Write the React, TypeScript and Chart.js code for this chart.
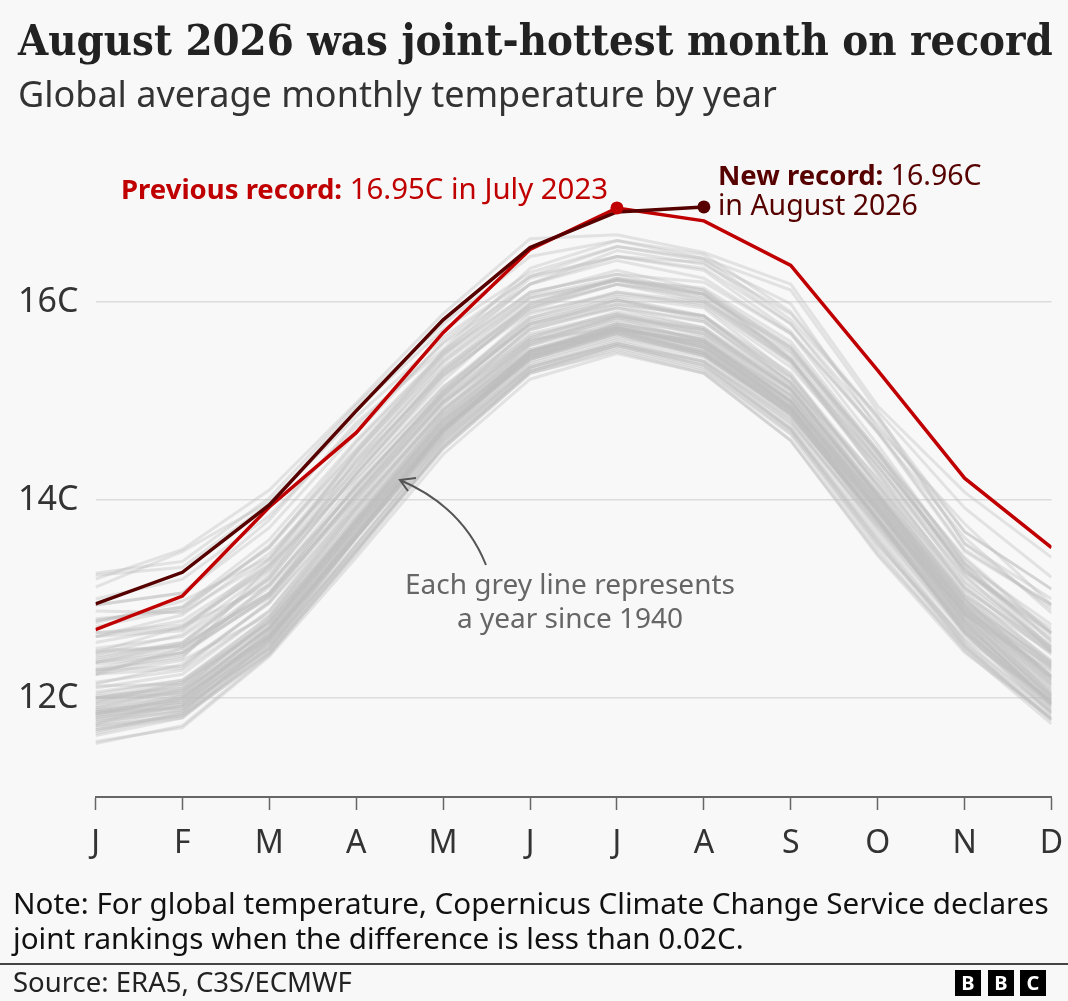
import React, { useEffect, useRef } from 'react';
import { Chart, registerables } from 'chart.js';

Chart.register(...registerables);

const months = ['J', 'F', 'M', 'A', 'M', 'J', 'J', 'A', 'S', 'O', 'N', 'D'];
const yTicks = [12, 14, 16];

const record2023 = [12.69, 13.03, 13.93, 14.68, 15.69, 16.53, 16.95, 16.82, 16.37, 15.31, 14.22, 13.52];
const record2026 = [12.95, 13.27, 13.95, 14.9, 15.82, 16.55, 16.91, 16.96];

const grey1940s = [
  [11.78, 11.92, 12.62, 13.72, 14.74, 15.48, 15.78, 15.62, 14.98, 13.94, 12.86, 12.18],
  [11.95, 12.14, 12.78, 13.84, 14.86, 15.58, 15.86, 15.7, 15.06, 14.06, 12.94, 12.22],
  [11.98, 12.06, 12.7, 13.72, 14.72, 15.44, 15.7, 15.5, 14.9, 13.82, 12.8, 12.02],
  [11.74, 11.98, 12.64, 13.68, 14.7, 15.46, 15.74, 15.58, 14.98, 13.98, 12.92, 12.14],
  [11.92, 12.1, 12.76, 13.8, 14.82, 15.56, 15.84, 15.72, 15.1, 14.02, 12.88, 12.1],
  [11.86, 12.02, 12.6, 13.66, 14.68, 15.42, 15.72, 15.6, 15.0, 13.9, 12.78, 11.92],
  [11.84, 11.96, 12.66, 13.74, 14.72, 15.42, 15.68, 15.48, 14.86, 13.78, 12.7, 11.88],
  [11.8, 11.94, 12.68, 13.76, 14.76, 15.5, 15.76, 15.54, 14.92, 13.9, 12.84, 11.98],
  [11.86, 11.9, 12.58, 13.64, 14.7, 15.46, 15.72, 15.52, 14.9, 13.8, 12.76, 11.94],
  [11.78, 11.88, 12.56, 13.62, 14.64, 15.38, 15.62, 15.44, 14.8, 13.72, 12.66, 11.84],
];

const grey1950s = [
  [11.54, 11.72, 12.44, 13.48, 14.56, 15.3, 15.54, 15.32, 14.68, 13.56, 12.52, 11.78],
  [11.62, 11.8, 12.52, 13.62, 14.72, 15.46, 15.74, 15.58, 15.0, 13.94, 12.82, 12.04],
  [11.86, 11.98, 12.62, 13.66, 14.68, 15.44, 15.7, 15.5, 14.92, 13.8, 12.68, 11.94],
  [11.9, 12.04, 12.72, 13.78, 14.78, 15.5, 15.74, 15.56, 14.94, 13.88, 12.78, 12.02],
  [11.72, 11.82, 12.48, 13.5, 14.54, 15.3, 15.56, 15.36, 14.72, 13.62, 12.56, 11.84],
  [11.68, 11.84, 12.46, 13.46, 14.52, 15.28, 15.52, 15.3, 14.66, 13.5, 12.48, 11.74],
  [11.56, 11.7, 12.42, 13.42, 14.46, 15.22, 15.48, 15.28, 14.6, 13.46, 12.5, 11.78],
  [11.66, 11.86, 12.58, 13.64, 14.72, 15.48, 15.76, 15.6, 15.0, 13.92, 12.84, 12.12],
  [12.04, 12.18, 12.76, 13.76, 14.8, 15.48, 15.74, 15.54, 14.92, 13.86, 12.84, 12.06],
  [11.94, 12.06, 12.7, 13.72, 14.72, 15.46, 15.7, 15.5, 14.88, 13.76, 12.68, 11.96],
];

const grey1960s = [
  [11.8, 11.92, 12.5, 13.62, 14.66, 15.4, 15.64, 15.48, 14.88, 13.8, 12.66, 11.96],
  [11.82, 12.0, 12.66, 13.74, 14.76, 15.5, 15.72, 15.54, 14.92, 13.84, 12.76, 11.94],
  [11.88, 12.02, 12.64, 13.7, 14.72, 15.44, 15.68, 15.46, 14.88, 13.8, 12.74, 12.0],
  [11.9, 12.08, 12.62, 13.64, 14.68, 15.44, 15.72, 15.6, 15.06, 13.98, 12.88, 12.04],
  [11.88, 11.96, 12.54, 13.5, 14.52, 15.28, 15.5, 15.28, 14.6, 13.44, 12.46, 11.8],
  [11.72, 11.88, 12.5, 13.56, 14.6, 15.34, 15.58, 15.4, 14.82, 13.7, 12.64, 11.92],
  [11.84, 12.0, 12.62, 13.66, 14.7, 15.42, 15.68, 15.46, 14.86, 13.76, 12.7, 11.9],
  [11.76, 11.86, 12.58, 13.68, 14.72, 15.42, 15.66, 15.46, 14.84, 13.82, 12.74, 11.98],
  [11.74, 11.92, 12.6, 13.62, 14.62, 15.34, 15.6, 15.4, 14.78, 13.74, 12.72, 11.96],
  [11.84, 12.0, 12.7, 13.82, 14.84, 15.56, 15.78, 15.62, 15.0, 13.94, 12.9, 12.2],
];

const grey1970s = [
  [12.0, 12.16, 12.72, 13.76, 14.76, 15.46, 15.7, 15.48, 14.86, 13.8, 12.72, 11.94],
  [11.82, 11.9, 12.5, 13.54, 14.6, 15.34, 15.58, 15.4, 14.76, 13.66, 12.58, 11.86],
  [11.64, 11.84, 12.54, 13.62, 14.7, 15.5, 15.78, 15.64, 15.04, 14.0, 12.94, 12.22],
  [12.14, 12.34, 12.96, 13.94, 14.9, 15.62, 15.84, 15.6, 14.94, 13.8, 12.66, 11.86],
  [11.68, 11.8, 12.46, 13.54, 14.58, 15.32, 15.56, 15.38, 14.72, 13.58, 12.52, 11.78],
  [11.84, 11.94, 12.6, 13.62, 14.64, 15.36, 15.58, 15.36, 14.72, 13.6, 12.54, 11.8],
  [11.7, 11.82, 12.44, 13.48, 14.54, 15.3, 15.56, 15.34, 14.7, 13.54, 12.6, 11.98],
  [11.96, 12.16, 12.82, 13.9, 14.92, 15.64, 15.88, 15.68, 15.06, 13.96, 12.92, 12.16],
  [12.0, 12.12, 12.78, 13.8, 14.8, 15.5, 15.72, 15.48, 14.9, 13.88, 12.86, 12.14],
  [12.0, 12.08, 12.8, 13.86, 14.88, 15.6, 15.82, 15.68, 15.12, 14.08, 13.04, 12.38],
];

const grey1980s = [
  [12.16, 12.28, 12.88, 13.98, 15.0, 15.68, 15.88, 15.72, 15.1, 14.04, 13.0, 12.22],
  [12.28, 12.32, 12.96, 14.0, 14.98, 15.64, 15.9, 15.74, 15.14, 14.04, 12.94, 12.3],
  [12.02, 12.1, 12.7, 13.78, 14.82, 15.52, 15.74, 15.54, 14.98, 13.92, 12.88, 12.32],
  [12.46, 12.52, 13.06, 14.06, 15.04, 15.72, 15.94, 15.8, 15.18, 14.06, 13.0, 12.18],
  [12.12, 12.14, 12.76, 13.8, 14.86, 15.52, 15.76, 15.58, 14.94, 13.9, 12.78, 12.02],
  [12.0, 12.04, 12.72, 13.78, 14.8, 15.5, 15.72, 15.56, 14.94, 13.88, 12.8, 12.08],
  [12.06, 12.18, 12.82, 13.9, 14.9, 15.58, 15.8, 15.62, 15.0, 14.0, 12.92, 12.22],
  [12.24, 12.38, 12.84, 13.94, 14.96, 15.74, 16.02, 15.86, 15.24, 14.16, 13.04, 12.46],
  [12.48, 12.52, 13.06, 14.14, 15.1, 15.76, 15.94, 15.74, 15.12, 14.02, 12.9, 12.2],
  [12.1, 12.24, 12.88, 13.92, 14.92, 15.6, 15.86, 15.72, 15.12, 14.04, 12.96, 12.3],
];

const grey1990s = [
  [12.28, 12.42, 13.16, 14.12, 15.08, 15.78, 15.98, 15.86, 15.18, 14.22, 13.16, 12.48],
  [12.36, 12.5, 13.04, 14.16, 15.06, 15.82, 16.04, 15.86, 15.2, 14.08, 12.98, 12.34],
  [12.34, 12.44, 13.04, 14.02, 14.98, 15.62, 15.74, 15.56, 14.94, 13.92, 12.86, 12.28],
  [12.36, 12.46, 13.02, 14.04, 15.0, 15.66, 15.86, 15.66, 15.02, 13.98, 12.84, 12.26],
  [12.24, 12.3, 12.98, 14.08, 15.06, 15.8, 16.02, 15.82, 15.18, 14.16, 13.12, 12.46],
  [12.46, 12.72, 13.14, 14.14, 15.1, 15.84, 16.06, 15.94, 15.26, 14.2, 13.08, 12.36],
  [12.26, 12.46, 13.02, 14.04, 15.02, 15.72, 15.96, 15.8, 15.14, 14.04, 12.96, 12.36],
  [12.3, 12.46, 13.12, 14.12, 15.1, 15.88, 16.1, 16.0, 15.48, 14.44, 13.28, 12.66],
  [12.76, 12.98, 13.42, 14.48, 15.42, 16.08, 16.32, 16.12, 15.42, 14.26, 13.1, 12.5],
  [12.36, 12.54, 13.06, 14.06, 15.06, 15.78, 16.02, 15.84, 15.24, 14.14, 13.02, 12.34],
];

const grey2000s = [
  [12.24, 12.5, 13.14, 14.2, 15.14, 15.78, 15.98, 15.86, 15.28, 14.12, 13.0, 12.32],
  [12.42, 12.56, 13.24, 14.26, 15.26, 15.92, 16.18, 16.04, 15.4, 14.34, 13.3, 12.58],
  [12.62, 12.84, 13.46, 14.36, 15.3, 15.98, 16.22, 16.02, 15.42, 14.3, 13.22, 12.52],
  [12.66, 12.74, 13.3, 14.32, 15.3, 15.94, 16.18, 16.08, 15.52, 14.48, 13.26, 12.66],
  [12.62, 12.78, 13.34, 14.38, 15.26, 15.9, 16.08, 15.98, 15.4, 14.4, 13.36, 12.56],
  [12.66, 12.7, 13.4, 14.46, 15.4, 16.06, 16.24, 16.06, 15.54, 14.5, 13.4, 12.64],
  [12.44, 12.64, 13.28, 14.28, 15.28, 16.0, 16.22, 16.08, 15.5, 14.48, 13.28, 12.7],
  [12.88, 12.86, 13.4, 14.42, 15.34, 15.96, 16.18, 16.0, 15.38, 14.28, 13.12, 12.44],
  [12.28, 12.4, 13.34, 14.22, 15.14, 15.84, 16.1, 15.96, 15.34, 14.34, 13.24, 12.48],
  [12.5, 12.62, 13.2, 14.26, 15.24, 15.94, 16.24, 16.12, 15.54, 14.4, 13.32, 12.6],
];

const grey2010s = [
  [12.72, 12.9, 13.52, 14.58, 15.48, 16.1, 16.28, 16.08, 15.44, 14.4, 13.32, 12.46],
  [12.4, 12.56, 13.2, 14.26, 15.2, 15.98, 16.24, 16.08, 15.42, 14.36, 13.18, 12.52],
  [12.38, 12.54, 13.22, 14.4, 15.38, 16.04, 16.22, 16.14, 15.6, 14.5, 13.36, 12.5],
  [12.56, 12.72, 13.32, 14.32, 15.32, 16.04, 16.22, 16.1, 15.56, 14.46, 13.42, 12.66],
  [12.62, 12.68, 13.36, 14.48, 15.46, 16.1, 16.28, 16.2, 15.68, 14.56, 13.36, 12.74],
  [12.78, 12.92, 13.52, 14.5, 15.5, 16.24, 16.46, 16.34, 15.78, 14.76, 13.68, 13.1],
  [13.12, 13.48, 13.98, 14.84, 15.64, 16.26, 16.46, 16.4, 15.78, 14.68, 13.62, 12.86],
  [13.0, 13.2, 13.84, 14.74, 15.58, 16.18, 16.46, 16.32, 15.7, 14.68, 13.48, 12.94],
  [12.78, 12.92, 13.6, 14.6, 15.5, 16.18, 16.42, 16.24, 15.68, 14.7, 13.5, 12.94],
  [12.94, 13.06, 13.8, 14.78, 15.52, 16.34, 16.62, 16.48, 15.9, 14.84, 13.68, 13.1],
];

const grey2020s = [
  [13.24, 13.32, 13.96, 14.92, 15.72, 16.3, 16.56, 16.42, 15.98, 14.72, 13.76, 12.94],
  [12.8, 12.88, 13.54, 14.52, 15.46, 16.18, 16.52, 16.38, 15.88, 14.82, 13.56, 12.9],
  [12.94, 13.06, 13.72, 14.68, 15.6, 16.26, 16.56, 16.44, 15.82, 14.86, 13.56, 13.0],
  [13.2, 13.5, 14.1, 14.98, 15.88, 16.64, 16.68, 16.5, 16.18, 14.95, 14.08, 13.42],
  [13.26, 13.38, 14.02, 14.96, 15.78, 16.46, 16.62, 16.44, 16.12, 14.9, 13.92, 13.22],
];

const greyYears = [
  ...grey1940s, ...grey1950s, ...grey1960s, ...grey1970s, ...grey1980s,
  ...grey1990s, ...grey2000s, ...grey2010s, ...grey2020s,
];

const RED = '#c00000';
const DARK = '#560000';
const SANS = '"Noto Sans", sans-serif';

const text = (style: React.CSSProperties): React.CSSProperties => ({
  position: 'absolute',
  whiteSpace: 'nowrap',
  fontFamily: SANS,
  ...style,
});

export default function App() {
  const canvasRef = useRef<HTMLCanvasElement>(null);

  useEffect(() => {
    document.body.style.margin = '0';
    if (!canvasRef.current) return;

    const chart = new Chart(canvasRef.current, {
      type: 'line',
      data: {
        labels: months,
        datasets: [
          ...greyYears.map((values) => ({
            data: values,
            borderColor: 'rgba(190,190,190,0.38)',
            borderWidth: 3,
            pointRadius: 0,
            clip: 0,
            order: 5,
          })),
          {
            data: record2023,
            borderColor: RED,
            borderWidth: 3.5,
            pointRadius: 0,
            clip: 0,
            order: 2,
          },
          {
            data: record2026,
            borderColor: DARK,
            backgroundColor: DARK,
            borderWidth: 3.5,
            pointRadius: (ctx: any) => (ctx.dataIndex === record2026.length - 1 ? 6.5 : 0),
            pointBorderWidth: 0,
            clip: 0,
            order: 1,
          },
          {
            // dot for the July 2023 record, on top of both lines
            data: record2023.map((v, i) => (i === 6 ? v : null)),
            showLine: false,
            backgroundColor: RED,
            pointRadius: 6.5,
            pointBorderWidth: 0,
            order: 0,
          },
        ] as any,
      },
      options: {
        animation: false,
        responsive: false,
        devicePixelRatio: 1,
        layout: { padding: { top: 153.5, right: 16.5, left: 0, bottom: 0 } },
        plugins: { legend: { display: false }, tooltip: { enabled: false } },
        scales: {
          x: {
            offset: false,
            afterFit: (scale: any) => {
              scale.height = 204;
              scale.paddingLeft = 0;
              scale.paddingRight = 0;
            },
            grid: {
              drawOnChartArea: false,
              tickLength: 13,
              tickColor: '#666666',
              tickWidth: 1.5,
            },
            border: { color: '#666666', width: 2 },
            ticks: {
              autoSkip: false,
              maxRotation: 0,
              padding: 15,
              color: '#333333',
              font: { family: SANS, size: 32 },
            },
          },
          y: {
            min: 11,
            max: 17.5,
            afterBuildTicks: (scale: any) => {
              scale.ticks = yTicks.map((value) => ({ value }));
            },
            afterFit: (scale: any) => {
              scale.width = 95.5;
            },
            grid: { color: '#dcdcdc', lineWidth: 1.5, drawTicks: false },
            border: { display: false },
            ticks: {
              padding: 17,
              color: '#333333',
              font: { family: SANS, size: 34 },
              callback: (v: any) => `${v}C`,
            },
          },
        },
      },
    });

    return () => chart.destroy();
  }, []);

  return (
    <div style={{ position: 'absolute', left: 0, top: 0, width: 1068, height: 1001, background: '#f8f8f8', overflow: 'hidden' }}>
      <canvas ref={canvasRef} width={1068} height={1001} style={{ position: 'absolute', left: 0, top: 0 }} />

      <div style={text({ left: 18, top: 10, fontFamily: '"DejaVu Serif", serif', fontWeight: 700, fontSize: 43, lineHeight: '60px', color: '#222222', transform: 'scaleX(0.905)', transformOrigin: 'left top' })}>
        August 2026 was joint-hottest month on record
      </div>
      <div style={text({ left: 18, top: 70, fontSize: 36, lineHeight: '48px', color: '#333333' })}>
        Global average monthly temperature by year
      </div>

      <div style={text({ left: 121, top: 169, fontSize: 29.4, lineHeight: '38px', color: RED })}>
        <b style={{ fontSize: 27.5 }}>Previous record:</b> 16.95C in July 2023
      </div>
      <div style={text({ left: 718, top: 160, fontSize: 28.5, lineHeight: '28.5px', color: DARK })}>
        <b style={{ fontSize: 27.5 }}>New record:</b> 16.96C
        <br />
        in August 2026
      </div>

      <div style={text({ left: 370, width: 400, top: 566, textAlign: 'center', fontSize: 28, lineHeight: '34px', color: '#666666' })}>
        Each grey line represents
        <br />a year since 1940
      </div>
      <svg width={1068} height={1001} style={{ position: 'absolute', left: 0, top: 0 }}>
        <path d="M486 565 C470 525 440 497 400 480 M416 478 L400 480 L408 491" fill="none" stroke="#555555" strokeWidth={2} />
      </svg>

      <div style={text({ left: 13, top: 885, fontSize: 29.6, lineHeight: '35px', color: '#111111' })}>
        Note: For global temperature, Copernicus Climate Change Service declares
        <br />
        joint rankings when the difference is less than 0.02C.
      </div>
      <div style={{ position: 'absolute', left: 0, top: 963, width: 1068, height: 1.5, background: '#444444' }} />
      <div style={text({ left: 13, top: 965, fontSize: 27.5, lineHeight: '34px', color: '#222222' })}>
        Source: ERA5, C3S/ECMWF
      </div>
      {['B', 'B', 'C'].map((letter, i) => (
        <div
          key={i}
          style={text({ left: [955, 988, 1020][i], top: 970, width: 26, height: 26, background: '#000000', color: '#ffffff', fontWeight: 700, fontSize: 20, lineHeight: '26px', textAlign: 'center' })}
        >
          {letter}
        </div>
      ))}
    </div>
  );
}
